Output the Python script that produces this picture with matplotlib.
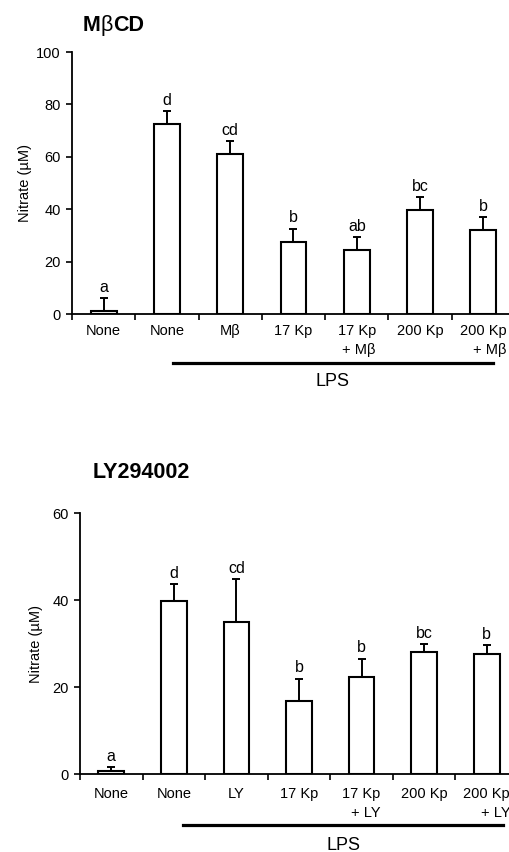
import matplotlib
matplotlib.use("Agg")
import matplotlib.pyplot as plt
import numpy as np

plt.rcParams['font.family'] = ['Liberation Sans', 'DejaVu Sans']

# ---- data ----
top_title = [("M", "bold"), ("β", "normal"), ("CD", "bold")]
top_cats = ["None", "None", "Mβ", "17 Kp", "17 Kp\n+ Mβ", "200 Kp", "200 Kp\n+ Mβ"]
top_vals = [1.0, 72.4, 61.0, 27.6, 24.4, 39.6, 32.0]
top_errs = [5.0, 5.1, 4.9, 5.0, 4.9, 4.9, 4.9]
top_letters = ["a", "d", "cd", "b", "ab", "bc", "b"]
top_yticks = [0, 20, 40, 60, 80, 100]

bot_title = [("LY294002", "bold")]
bot_cats = ["None", "None", "LY", "17 Kp", "17 Kp\n+ LY", "200 Kp", "200 Kp\n+ LY"]
bot_vals = [0.8, 39.9, 35.1, 16.8, 22.4, 28.1, 27.7]
bot_errs = [0.8, 3.8, 9.8, 5.2, 4.2, 1.9, 2.0]
bot_letters = ["a", "d", "cd", "b", "b", "bc", "b"]
bot_yticks = [0, 20, 40, 60]

group_label = "LPS"
y_label = "Nitrate (µM)"

W, H = 510, 852
fig = plt.figure(figsize=(W / 100, H / 100), dpi=100)
renderer = fig.canvas.get_renderer()


def make_axes(left, right, y0, ytop):
    return fig.add_axes([left / W, 1 - y0 / H, (right - left) / W, (y0 - ytop) / H])


def panel(ax, cats, vals, errs, letters, yticks, title, title_xy, ylab_x, lab_off,
          lps_x0, lps_x1, lps_y, lps_text_y):
    x = np.arange(len(cats))
    ax.bar(x, vals, width=0.41, color="white", edgecolor="black", linewidth=1.5, zorder=2)
    ax.errorbar(x, vals, yerr=[np.zeros(len(errs)), errs], fmt="none", ecolor="black",
                elinewidth=1.4, capsize=3.2, capthick=1.4, zorder=1)
    for xi, v, e, l in zip(x, vals, errs, letters):
        ax.annotate(l, (xi, v + e), xytext=(0, 4.5), textcoords="offset points",
                    ha="center", va="baseline", fontsize=11.5)
    ax.set_xlim(-0.5, len(cats) - 0.5)
    ax.set_ylim(yticks[0], yticks[-1])
    ax.set_yticks(yticks)
    ax.set_yticklabels([str(t) for t in yticks], fontsize=10.5)
    ax.set_xticks(np.arange(len(cats) + 1) - 0.5)
    ax.set_xticklabels([])
    ax.tick_params(axis="x", direction="out", length=4, width=1.2)
    ax.tick_params(axis="y", direction="out", length=4, width=1.2, pad=4)
    for xi, c in zip(x, cats):
        ax.text(xi, lab_off, c, transform=ax.get_xaxis_transform(), ha="center", va="top",
                multialignment="right", fontsize=10.5, linespacing=1.4)
    for s in ["top", "right"]:
        ax.spines[s].set_visible(False)
    for s in ["left", "bottom"]:
        ax.spines[s].set_linewidth(1.3)
    ax.set_ylabel(y_label, fontsize=10.5)
    ax.yaxis.set_label_coords(ylab_x, 0.5)

    # title pieces laid out left to right on a common baseline
    xpix = title_xy[0]
    for txt, wt in title:
        t = fig.text(xpix / W, 1 - title_xy[1] / H, txt, fontsize=15.5, fontweight=wt,
                     ha="left", va="baseline")
        xpix += t.get_window_extent(renderer=renderer).width

    fig.add_artist(plt.Line2D([lps_x0 / W, lps_x1 / W], [1 - lps_y / H, 1 - lps_y / H],
                              color="black", linewidth=2.3))
    fig.text((lps_x0 + lps_x1) / 2 / W, 1 - lps_text_y / H, group_label, fontsize=13,
             ha="center", va="center")


ax1 = make_axes(72, 515, 314, 52)
ax2 = make_axes(80, 518, 774.3, 513.3)

panel(ax1, top_cats, top_vals, top_errs, top_letters, top_yticks, top_title,
      (83, 31), -0.09, -0.04, 173, 493, 363, 382)
panel(ax2, bot_cats, bot_vals, bot_errs, bot_letters, bot_yticks, bot_title,
      (93, 478), -0.085, -0.05, 183, 503, 825, 845)

fig.savefig("out.png", dpi=100)
